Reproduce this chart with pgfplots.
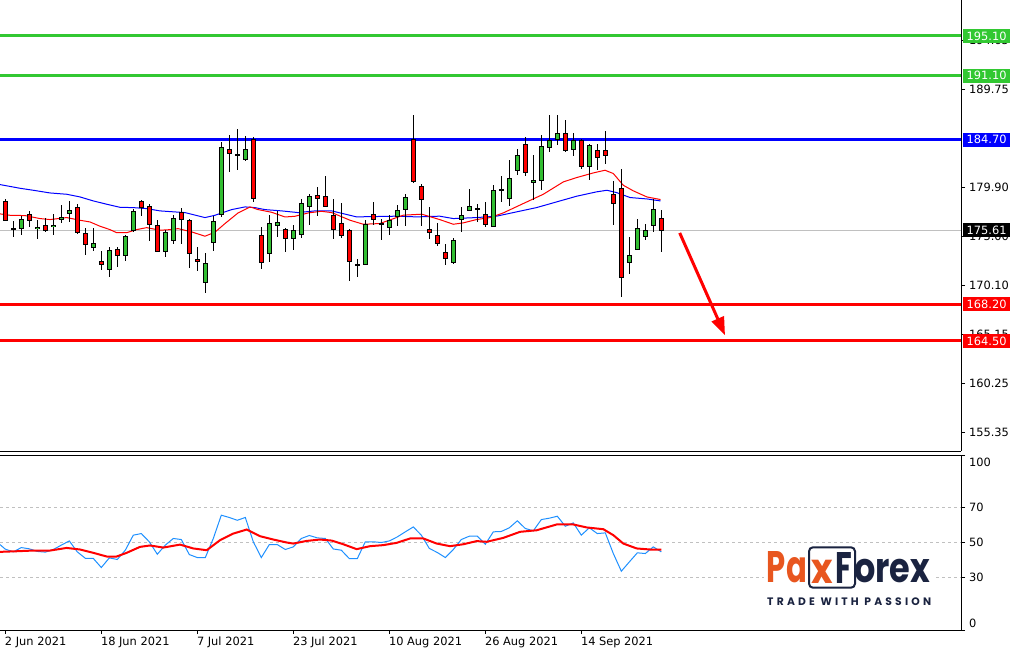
\documentclass[border=0pt]{standalone}
\usepackage{pgfplots}
\pgfplotsset{compat=1.18}
\usepackage{pgfplotstable}
\usetikzlibrary{arrows.meta}
\usepackage{fontspec}
\setmainfont{DejaVu Sans}
\newfontfamily\logofont{Poppins}

\definecolor{lvlgreen}{RGB}{50,200,50}
\definecolor{upgreen}{RGB}{50,190,50}
\definecolor{rsiblue}{RGB}{30,144,255}
\definecolor{silvergray}{RGB}{192,192,192}
\definecolor{logoorange}{RGB}{232,86,31}
\definecolor{logonavy}{RGB}{26,35,64}

% k  open  high  low  close
\pgfplotstableread{
k O H L C
1 175.77 176.51 174.94 175.77
2 175.77 177.01 175.11 176.78
4 175.74 176.68 174.74 175.97
6 175.94 177.21 175.14 176.18
7 176.68 178.11 176.34 176.98
8 177.25 178.52 176.44 177.68
11 173.83 175.87 173.50 174.30
13 171.63 173.90 170.93 173.67
15 173.07 175.14 172.56 175.01
16 175.54 177.78 175.44 177.51
20 173.47 175.61 172.93 175.44
21 174.57 177.18 174.24 176.88
25 170.36 173.37 169.32 172.36
26 174.37 177.04 173.53 176.58
27 177.11 184.47 176.94 184.00
30 182.69 185.04 182.60 183.80
33 173.27 177.11 172.43 176.38
34 176.04 177.55 174.94 176.48
36 174.77 176.11 173.60 175.67
37 175.17 178.78 174.84 178.38
38 177.95 179.28 176.11 179.08
44 172.07 172.77 170.93 172.27
45 172.17 176.68 172.10 176.21
47 176.28 176.78 174.67 176.28
48 175.88 177.12 175.18 176.68
49 176.95 178.12 176.05 177.68
50 177.62 179.29 176.05 178.95
56 172.37 174.84 172.27 174.67
57 176.61 177.95 175.44 177.18
58 177.58 179.72 177.55 178.08
59 177.68 178.22 176.45 177.88
61 175.95 180.12 175.90 179.69
63 178.75 182.63 178.02 180.89
64 181.53 183.80 181.13 183.13
66 180.39 183.13 178.62 180.63
67 180.56 185.21 179.62 184.04
68 183.90 187.15 183.47 184.64
69 184.70 187.15 184.14 185.41
71 183.70 185.41 183.03 184.64
73 181.96 184.30 180.63 184.14
78 172.33 174.94 171.26 173.10
79 173.67 176.78 173.60 175.88
80 174.94 176.28 174.67 175.61
81 176.05 178.72 175.44 177.78
}\up

\pgfplotstableread{
k O H L C
0 178.58 178.70 176.50 176.58
3 177.28 177.55 175.94 176.58
5 176.18 176.88 175.41 175.54
9 177.98 178.28 175.27 175.37
10 175.37 175.87 173.13 174.17
12 172.56 173.50 171.63 172.16
14 173.77 173.94 171.93 173.07
17 178.58 178.62 177.04 177.88
18 178.08 178.21 174.54 176.18
19 176.18 176.61 173.40 173.47
22 177.41 177.88 174.24 176.68
23 176.68 176.75 171.83 173.27
24 172.77 173.90 171.53 172.43
28 183.80 185.20 181.46 183.30
29 183.23 185.80 181.62 183.03
31 184.80 185.00 178.45 178.75
32 175.17 175.94 171.73 172.36
35 175.77 175.80 173.43 174.77
39 179.18 179.95 177.01 178.75
40 179.08 181.02 177.90 177.95
41 177.12 178.79 174.77 175.61
42 176.38 178.39 174.88 175.04
43 175.61 175.70 170.53 172.43
46 177.28 178.45 176.11 176.68
51 184.80 187.15 180.36 180.46
52 180.09 180.20 176.05 178.69
53 175.78 177.95 174.78 175.38
54 175.11 176.38 174.04 174.21
55 173.44 174.27 172.17 172.77
60 177.28 178.45 175.95 176.18
62 179.79 181.03 178.45 179.59
65 184.24 184.97 181.09 181.36
70 185.41 186.71 183.50 183.57
72 184.70 184.80 181.76 181.96
74 183.63 184.24 181.63 182.90
75 183.63 185.54 182.23 183.10
76 179.29 180.53 176.11 178.29
77 179.89 181.80 168.92 170.86
82 176.88 177.62 173.44 175.54
}\down

\pgfplotsset{
  wicks/.style={draw=none, mark=none, forget plot,
    error bars/.cd, y dir=both, y explicit, error mark=none,
    error bar style={draw=black, line width=1pt}},
  bodies/.style={draw=none, mark=none, forget plot,
    error bars/.cd, y dir=both, y explicit, error mark=none,
    error bar style={draw=#1, line width=5pt}},
  fills/.style={draw=none, mark=none, forget plot,
    error bars/.cd, y dir=both, y explicit, error mark=none,
    error bar style={draw=#1, line width=3pt}},
}

\begin{document}
\begin{tikzpicture}[x=1pt, y=1pt]
\fontsize{11.4}{13}\selectfont
\coordinate (mainTL) at (0,649);
\coordinate (oscTL) at (0,194);

% main price panel
\begin{axis}[
  at={(mainTL)}, anchor=north west,
  scale only axis, width=961pt, height=451pt,
  xmin=-0.6625, xmax=119.46, ymin=153.46, ymax=198.71,
  axis x line*=bottom, axis y line*=right,
  axis line style={black, line width=1pt},
  xtick=\empty,
  ytick={155.35,160.25,165.15,170.10,175.00,179.90,189.75,194.65},
  yticklabels={155.35,160.25,165.15,170.10,175.00,179.90,189.75,194.65},
  tick align=outside, major tick length=4pt,
  tick style={black, line width=0.8pt},
  ticklabel style={font=\fontsize{11.4}{13}\selectfont},
  clip mode=individual,
]
% levels
\addplot[silvergray, line width=1pt] coordinates {(-0.6625,175.61) (119.46,175.61)};
\addplot[lvlgreen, line width=3pt] coordinates {(-0.6625,195.10) (119.46,195.10)};
\addplot[lvlgreen, line width=3pt] coordinates {(-0.6625,191.10) (119.46,191.10)};
\addplot[blue, line width=3pt] coordinates {(-0.6625,184.70) (119.46,184.70)};
\addplot[red, line width=3pt] coordinates {(-0.6625,168.20) (119.46,168.20)};
\addplot[red, line width=3pt] coordinates {(-0.6625,164.50) (119.46,164.50)};

% moving averages
\addplot[blue, line width=1pt] coordinates {
(-0.66,180.19) (1.84,179.82) (3.5,179.62) (5.59,179.35) (7.67,179.22) (9.34,178.95)
(11.0,178.55) (12.67,178.22) (14.34,177.91) (16.0,177.88) (17.67,177.78) (19.34,177.55)
(20.6,177.48) (22.46,177.38) (24.96,176.88) (26.2,177.11) (28.3,177.68) (29.96,177.95)
(31.2,177.88) (32.46,177.68) (34.55,177.55) (36.6,177.38) (38.7,177.55) (40.8,177.55)
(43.9,176.95) (48.9,177.02) (51.4,176.95) (54.3,177.02) (56.0,176.78) (58.9,176.88)
(61.4,177.02) (63.9,177.45) (66.4,177.88) (68.9,178.45) (71.4,179.02) (73.9,179.46)
(75.2,179.62) (76.4,179.39) (78.1,178.89) (80.2,178.75) (81.9,178.55)};
\addplot[red, line width=1pt] coordinates {
(-0.66,177.25) (0.59,177.11) (2.46,177.08) (4.34,176.78) (5.59,176.68) (7.67,176.88)
(9.34,176.61) (10.59,176.44) (11.84,176.01) (13.09,175.67) (13.9,175.37) (15.2,175.37)
(16.4,175.67) (17.67,175.87) (19.34,175.61) (20.6,175.67) (21.6,175.77) (23.3,175.44)
(24.96,175.01) (26.2,175.41) (27.46,176.28) (29.1,177.35) (30.6,177.95) (31.6,177.68)
(33.3,177.41) (34.96,176.94) (36.2,177.01) (37.9,177.35) (39.5,177.51) (40.8,177.38)
(43.1,176.61) (44.75,176.21) (46.8,176.28) (49.75,177.12) (52.05,177.22) (54.3,176.68)
(56.0,176.21) (57.25,176.35) (58.9,176.68) (60.6,176.88) (62.25,177.35) (64.75,178.29)
(67.25,179.22) (69.75,180.46) (71.4,180.89) (73.5,181.36) (74.96,181.63) (76.0,181.30)
(77.25,180.12) (78.5,179.56) (80.2,178.95) (81.9,178.69)};

% candles: wicks, then body outline, then body fill
\addplot[wicks] table[x=k, y expr={(\thisrow{H}+\thisrow{L})/2}, y error expr={(\thisrow{H}-\thisrow{L})/2}] {\up};
\addplot[wicks] table[x=k, y expr={(\thisrow{H}+\thisrow{L})/2}, y error expr={(\thisrow{H}-\thisrow{L})/2}] {\down};
\addplot[bodies=black] table[x=k, y expr={(\thisrow{O}+\thisrow{C})/2}, y error expr={max(abs(\thisrow{C}-\thisrow{O})/2,0.05)}] {\up};
\addplot[bodies=black] table[x=k, y expr={(\thisrow{O}+\thisrow{C})/2}, y error expr={max(abs(\thisrow{C}-\thisrow{O})/2,0.05)}] {\down};
\addplot[fills=upgreen] table[x=k, y expr={(\thisrow{O}+\thisrow{C})/2}, y error expr={max(abs(\thisrow{C}-\thisrow{O})/2-0.1,0)}] {\up};
\addplot[fills=red] table[x=k, y expr={(\thisrow{O}+\thisrow{C})/2}, y error expr={max(abs(\thisrow{C}-\thisrow{O})/2-0.1,0)}] {\down};

% forecast arrow
\draw[red, line width=3pt, -{Triangle[length=18pt, width=13pt]}] (axis cs:84.3,175.34) -- (axis cs:89.96,165.08);

% price tags on the right
\tikzset{tag/.style={anchor=west, xshift=2pt, text=white, fill=#1, inner xsep=3.5pt, inner ysep=0pt, minimum height=14pt, font=\fontsize{11.4}{13}\selectfont}}
\node[tag=lvlgreen] at (axis cs:119.46,195.10) {195.10};
\node[tag=lvlgreen] at (axis cs:119.46,191.10) {191.10};
\node[tag=blue] at (axis cs:119.46,184.70) {184.70};
\node[tag=black] at (axis cs:119.46,175.61) {175.61};
\node[tag=red] at (axis cs:119.46,168.20) {168.20};
\node[tag=red] at (axis cs:119.46,164.50) {164.50};
\end{axis}

% oscillator panel
\begin{axis}[
  at={(oscTL)}, anchor=north west,
  scale only axis, width=961pt, height=175pt,
  xmin=-0.6625, xmax=119.46, ymin=0, ymax=100,
  axis x line*=bottom, axis y line*=right,
  axis line style={black, line width=1pt},
  xtick={0,12,24,36,48,60,72},
  xticklabels={2 Jun 2021,18 Jun 2021,7 Jul 2021,23 Jul 2021,10 Aug 2021,26 Aug 2021,14 Sep 2021},
  ytick={0,30,50,70,100},
  yticklabels={\raisebox{3pt}[0pt][0pt]{0},\raisebox{-4pt}[0pt][0pt]{30},\raisebox{-4pt}[0pt][0pt]{50},\raisebox{-4pt}[0pt][0pt]{70},\raisebox{-11pt}[0pt][0pt]{100}},
  tick align=outside, major tick length=4pt,
  tick style={black, line width=0.8pt},
  ticklabel style={font=\fontsize{11.4}{13}\selectfont},
  xticklabel style={anchor=north west, inner sep=0pt, xshift=-0.5pt, yshift=-3pt},
  clip mode=individual,
]
\addplot[silvergray, dashed, line width=1pt] coordinates {(-0.6625,30) (119.46,30)};
\addplot[silvergray, dashed, line width=1pt] coordinates {(-0.6625,50) (119.46,50)};
\addplot[silvergray, dashed, line width=1pt] coordinates {(-0.6625,70) (119.46,70)};

\addplot[rsiblue, line width=1pt] coordinates {
(-0.66,48.8) (0,46.2) (1,44.65) (2,47.1) (3,46.4) (4,44.9) (5,44.5) (6,46.0) (7,48.5)
(8,50.9) (9,44.65) (10,41.0) (11,40.9) (12,35.7) (13,41.2) (14,40.3) (15,45.6) (16,54.2)
(17,55.1) (18,50.4) (19,43.3) (20,48.5) (21,52.3) (22,51.7) (23,43.1) (24,41.4) (25,41.4)
(26,52.3) (27,65.6) (28,64.3) (29,62.7) (30,64.3) (31,50.4) (32,41.4) (33,48.8) (34,48.8)
(35,46.0) (36,47.5) (37,52.3) (38,54.0) (39,52.65) (40,52.3) (41,46.3) (42,45.6) (43,40.8)
(44,40.8) (45,50.4) (46,50.4) (47,50.0) (48,50.9) (49,53.2) (50,56.1) (51,58.9) (52,54.2)
(53,46.6) (54,44.3) (55,41.4) (56,46.0) (57,51.7) (58,53.6) (59,53.6) (60,49.0) (61,56.1)
(62,56.3) (63,58.4) (64,62.4) (65,58.0) (66,56.7) (67,63.1) (68,63.9) (69,65.0) (70,59.3)
(71,61.2) (72,54.2) (73,58.4) (74,55.1) (75,55.5) (76,43.7) (77,33.6) (78,38.9) (79,44.1)
(80,43.7) (81,47.5) (82,44.65)};
\addplot[red, line width=2pt] coordinates {
(-0.66,44.65) (1.42,45.0) (3.5,45.4) (5.59,45.4) (7.67,46.9) (9.34,46.0) (11.0,44.1)
(12.67,42.0) (13.92,42.0) (15.17,44.1) (16.84,47.5) (18.1,48.3) (19.75,47.1) (21.84,48.8)
(23.5,46.6) (25.17,45.6) (26.84,51.3) (28.5,55.1) (30.17,57.4) (31.84,53.6) (33.5,51.7)
(35.17,50.0) (36.0,49.4) (37.67,50.9) (39.34,51.7) (40.8,51.1) (42.25,49.0) (43.92,46.2)
(45.59,47.9) (47.25,48.5) (48.92,49.8) (50.59,52.3) (52.25,52.3) (53.92,49.4) (55.59,47.9)
(57.25,49.0) (58.92,50.8) (60.17,50.4) (62.25,52.65) (64.34,56.1) (66.42,57.0) (68.92,60.3)
(71.0,60.3) (72.67,58.6) (74.75,57.6) (76.0,54.2) (77.25,49.4) (78.92,46.6) (80.59,46.0)
(82.0,46.0)};
\end{axis}
% top edge of the oscillator panel
\draw[black, line width=1pt] (0,194) -- (961,194);

% logo
\fill[white] (764,40) rectangle (934,104);
\node[anchor=south west, inner sep=0pt, text=logoorange] at (766.7,65.7) {\resizebox{40pt}{31pt}{\logofont\bfseries Pa}};
\node[anchor=south west, inner sep=0pt, text=logoorange] at (811,65.7) {\resizebox{21.5pt}{23.3pt}{\logofont\bfseries x}};
\node[anchor=south west, inner sep=0pt, text=logonavy] at (835,65.7) {\resizebox{16.7pt}{31pt}{\logofont\bfseries F}};
\node[anchor=south west, inner sep=0pt, text=logonavy] at (854,65.7) {\resizebox{76pt}{23.3pt}{\logofont\bfseries orex}};
\draw[logonavy, line width=2pt, rounded corners=4pt] (809,61.3) rectangle (855,101.7);
\node[anchor=south west, inner sep=0pt, text=logonavy] at (767,43.3) {\resizebox{164pt}{7.7pt}{\logofont\bfseries\addfontfeature{LetterSpace=30}TRADE WITH PASSION}};

\pgfresetboundingbox
\path[use as bounding box] (0,0) rectangle (1017,649);
\end{tikzpicture}
\end{document}
